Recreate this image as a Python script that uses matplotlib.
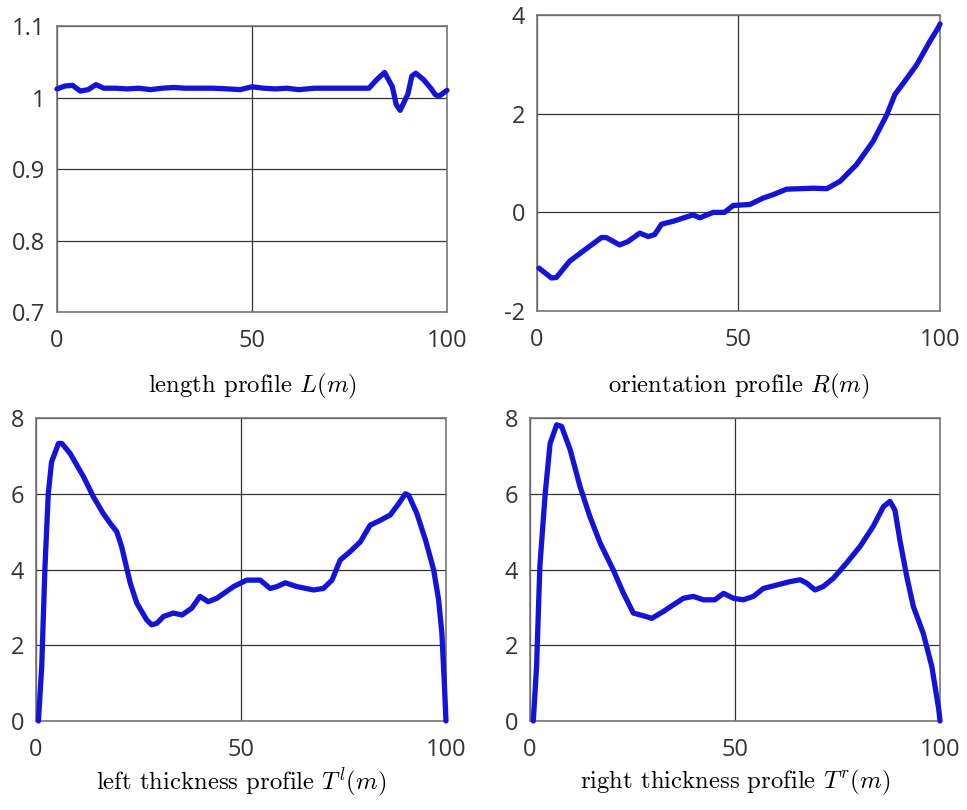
import matplotlib
matplotlib.use("Agg")
import matplotlib.pyplot as plt

plt.rcParams["mathtext.fontset"] = "cm"

# length profile L(m)
len_x = [0, 2, 4, 6, 8, 10, 12, 15, 18, 21, 24, 27, 30, 33, 36, 40, 44, 47, 50,
         53, 56, 59, 62, 66, 70, 74, 78, 80, 82, 84, 86, 87, 88, 90, 91, 92,
         94, 96, 97, 98, 99, 100]
len_y = [1.012, 1.016, 1.017, 1.009, 1.011, 1.018, 1.013, 1.013, 1.012, 1.013,
         1.011, 1.013, 1.014, 1.013, 1.013, 1.013, 1.012, 1.011, 1.015, 1.013,
         1.012, 1.013, 1.011, 1.013, 1.013, 1.013, 1.013, 1.013, 1.025, 1.035,
         1.015, 0.99, 0.982, 1.005, 1.03, 1.034, 1.025, 1.012, 1.004, 1.002,
         1.006, 1.010]

# orientation profile R(m)
ori_x = [0.5, 3.6, 4.8, 8.1, 13, 16, 17.2, 20.5, 22.6, 25.5, 27.6, 29.2, 30.9,
         33.8, 38.7, 40.4, 43.7, 46.5, 48.7, 52.8, 56.1, 58.6, 61.9, 68.5, 71.9,
         75.2, 79.3, 83.4, 86.8, 88.8, 90.9, 94.2, 97.5, 99.6, 100]
ori_y = [-1.13, -1.33, -1.32, -0.99, -0.69, -0.51, -0.51, -0.66, -0.59, -0.42,
         -0.49, -0.45, -0.24, -0.18, -0.05, -0.11, 0.0, 0.0, 0.14, 0.16, 0.29,
         0.36, 0.47, 0.49, 0.48, 0.63, 0.97, 1.44, 1.98, 2.39, 2.62, 2.99, 3.47,
         3.75, 3.82]

# left thickness profile
tl_x = [0.6, 1.4, 2.2, 3.0, 3.8, 5.5, 6.3, 8.3, 11.6, 14, 16.4, 18.1, 19.7,
        20.9, 23, 24.6, 27, 28.2, 29.5, 31.1, 33.5, 35.6, 38, 40, 42, 44.1,
        48.2, 51.4, 54.7, 57.1, 58.8, 60.8, 63.6, 67.7, 70.1, 72.2, 74.2, 76.6,
        79.1, 81.5, 84, 86.4, 88.4, 90.1, 90.9, 92.9, 95, 97, 98.2, 99, 99.6, 100]
tl_y = [0, 1.44, 4.08, 6.0, 6.84, 7.33, 7.33, 7.07, 6.45, 5.92, 5.48, 5.22, 5.0,
        4.6, 3.64, 3.11, 2.67, 2.54, 2.58, 2.76, 2.85, 2.8, 2.98, 3.29, 3.15,
        3.24, 3.55, 3.72, 3.72, 3.5, 3.55, 3.65, 3.55, 3.46, 3.5, 3.72, 4.25,
        4.47, 4.73, 5.17, 5.3, 5.44, 5.73, 6.0, 5.96, 5.48, 4.78, 3.99, 3.2,
        2.32, 1.0, 0]

# right thickness profile
tr_x = [0.8, 1.6, 2.4, 3.7, 4.9, 6.5, 7.7, 9.8, 12.2, 14.6, 17.1, 20.3, 22.8,
        25.2, 27.6, 29.7, 32.5, 35, 37.4, 39.8, 42.3, 45.1, 47.2, 49.6, 52,
        54.5, 56.9, 60.2, 63.4, 65.9, 67.5, 69.5, 71.5, 74, 77.2, 80.5, 83.7,
        86.2, 87.8, 89, 90.2, 91.9, 93.5, 95.9, 98, 99.7, 100]
tr_y = [0, 1.44, 4.08, 6.0, 7.33, 7.82, 7.78, 7.16, 6.19, 5.4, 4.7, 3.99, 3.37,
        2.85, 2.78, 2.71, 2.89, 3.07, 3.24, 3.29, 3.2, 3.2, 3.37, 3.24, 3.2,
        3.29, 3.5, 3.59, 3.68, 3.73, 3.64, 3.46, 3.55, 3.77, 4.17, 4.61, 5.14,
        5.66, 5.8, 5.57, 4.78, 3.81, 3.02, 2.32, 1.44, 0.3, 0]

x_ticks = [0, 50, 100]

panels = [
    # axes rect, x, y, ylim, yticks, yticklabels, caption
    ([0.0589, 0.6148, 0.4033, 0.3531], len_x, len_y, (0.7, 1.1),
     [0.7, 0.8, 0.9, 1.0, 1.1], ["0.7", "0.8", "0.9", "1", "1.1"],
     "length profile $L(m)$"),
    ([0.5553, 0.6160, 0.4168, 0.3654], ori_x, ori_y, (-2, 4),
     [-2, 0, 2, 4], ["-2", "0", "2", "4"],
     "orientation profile $R(m)$"),
    ([0.0372, 0.1099, 0.4240, 0.3740], tl_x, tl_y, (0, 8),
     [0, 2, 4, 6, 8], ["0", "2", "4", "6", "8"],
     "left thickness profile $T^l(m)$"),
    ([0.5481, 0.1099, 0.4240, 0.3740], tr_x, tr_y, (0, 8),
     [0, 2, 4, 6, 8], ["0", "2", "4", "6", "8"],
     "right thickness profile $T^r(m)$"),
]

fig = plt.figure(figsize=(9.67, 8.10), dpi=100)

for i, (rect, xs, ys, ylim, yt, ytl, cap) in enumerate(panels):
    ax = fig.add_axes(rect)
    ax.plot(xs, ys, color="#1414d8", lw=3.8, solid_capstyle="round",
            solid_joinstyle="round", clip_on=False, zorder=3)
    ax.set_xlim(0, 100)
    ax.set_ylim(*ylim)
    ax.set_xticks(x_ticks)
    ax.set_xticklabels([str(t) for t in x_ticks])
    ax.set_yticks(yt)
    ax.set_yticklabels(ytl)
    ax.grid(True, color="#333333", lw=0.9)
    ax.set_axisbelow(True)
    ax.tick_params(length=0, labelsize=17, colors="#333333")
    ax.tick_params(axis="x", pad=12)
    ax.tick_params(axis="y", pad=8.5)
    for lab in ax.get_xticklabels() + ax.get_yticklabels():
        lab.set_family("Open Sans")
    for s in ax.spines.values():
        s.set_color("#777777")
        s.set_linewidth(1.2)
    cy = 0.523 if i < 2 else 0.034
    fig.text(rect[0] + rect[2] / 2, cy, cap, ha="center", va="center",
             fontsize=17.8, family="cmr10")

fig.savefig("out.png", dpi=100)
